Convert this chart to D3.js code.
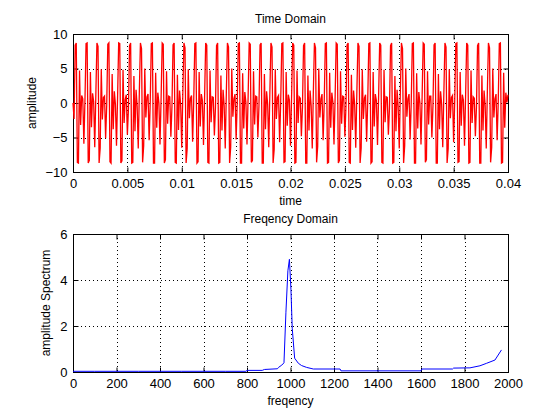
<!doctype html>
<html>
<head>
<meta charset="utf-8">
<title>Time / Freqency Domain</title>
<script src="https://d3js.org/d3.v7.min.js"></script>
<style>
  body { margin: 0; background: #fff; }
  text { font-family: "Liberation Sans", Arial, Helvetica, sans-serif; fill: #000; }
  .tick text { font-size: 13px; }
</style>
</head>
<body>
<script>
// time domain samples, dt = 0.0001 s
const dt = 0.0001;
const timeValues = [
  0.0, -2.3, 8.4, 8.7, -8.6, -8.7, 4.7, -3.2, 1.1, 0.6,
  -5.9, 0.4, 8.6, 8.7, -8.7, -8.3, 4.5, -3.5, 1.4, 0.2,
  -6.4, 1.2, 8.7, 8.2, -8.7, -6.5, 4.9, -2.4, 0.8, 1.0,
  -5.1, -0.3, 8.5, 8.7, -8.5, -8.7, 4.2, -3.8, 1.7, -0.2,
  -6.2, 0.9, 8.7, 8.6, -8.7, -8.4, 4.8, -2.9, 0.5, 1.2,
  -4.6, -0.8, 8.3, 8.7, -8.7, -8.6, 3.9, -4.1, 1.9, -0.5,
  -6.6, 1.6, 8.7, 7.9, -8.6, -6.2, 5.0, -2.1, 0.9, 1.3,
  -5.4, 0.0, 8.6, 8.7, -8.7, -8.7, 4.4, -3.6, 1.5, 0.0,
  -6.0, 0.6, 8.7, 8.5, -8.7, -8.2, 4.6, -3.0, 1.0, 0.9,
  -4.9, -0.5, 8.4, 8.7, -8.6, -8.7, 4.1, -3.9, 1.8, -0.3,
  -6.5, 1.4, 8.7, 8.0, -8.7, -6.6, 4.9, -2.2, 0.7, 1.1,
  -5.6, 0.2, 8.6, 8.7, -8.7, -8.5, 4.5, -3.4, 1.3, 0.3,
  -6.1, 0.8, 8.7, 8.4, -8.6, -8.7, 4.7, -2.8, 0.9, 0.8,
  -4.7, -0.7, 8.3, 8.7, -8.7, -8.6, 4.0, -4.0, 1.9, -0.4,
  -6.6, 1.5, 8.7, 8.1, -8.7, -6.4, 5.0, -2.0, 0.6, 1.3,
  -5.3, -0.1, 8.6, 8.7, -8.7, -8.7, 4.3, -3.7, 1.6, 0.1,
  -6.0, 0.7, 8.7, 8.5, -8.6, -8.3, 4.6, -3.1, 1.0, 0.9,
  -5.0, -0.4, 8.4, 8.7, -8.7, -8.7, 4.2, -3.8, 1.7, -0.2,
  -6.4, 1.3, 8.7, 8.1, -8.7, -6.7, 4.9, -2.3, 0.8, 1.1,
  -5.7, 0.3, 8.6, 8.7, -8.6, -8.5, 4.5, -3.3, 1.2, 0.4,
  -6.2, 0.9, 8.7, 8.4, -8.7, -8.6, 4.7, -2.9, 0.9, 0.7,
  -4.8, -0.6, 8.3, 8.7, -8.7, -8.7, 4.0, -4.0, 1.8, -0.4,
  -6.6, 1.5, 8.7, 8.0, -8.6, -6.3, 5.0, -2.1, 0.6, 1.3,
  -5.4, 0.0, 8.6, 8.7, -8.7, -8.6, 4.4, -3.6, 1.5, 0.1,
  -6.0, 0.6, 8.7, 8.5, -8.7, -8.3, 4.6, -3.0, 1.0, 0.9,
  -4.9, -0.5, 8.4, 8.7, -8.6, -8.7, 4.1, -3.9, 1.8, -0.2,
  -6.5, 1.4, 8.7, 8.2, -8.7, -6.5, 4.9, -2.3, 0.7, 1.2,
  -5.6, 0.2, 8.6, 8.7, -8.7, -8.5, 4.5, -3.4, 1.3, 0.3,
  -6.1, 0.8, 8.7, 8.4, -8.6, -8.7, 4.8, -2.8, 0.9, 0.8,
  -4.6, -0.8, 8.3, 8.7, -8.7, -8.6, 3.9, -4.1, 1.9, -0.5,
  -6.6, 1.6, 8.7, 7.9, -8.7, -6.2, 5.0, -2.0, 0.6, 1.3,
  -5.3, -0.1, 8.6, 8.7, -8.7, -8.7, 4.3, -3.7, 1.6, 0.0,
  -6.0, 0.7, 8.7, 8.5, -8.6, -8.2, 4.6, -3.1, 1.0, 1.0,
  -5.0, -0.4, 8.4, 8.7, -8.7, -8.7, 4.2, -3.8, 1.7, -0.2,
  -6.4, 1.3, 8.7, 8.1, -8.7, -6.6, 4.9, -2.2, 0.8, 1.1,
  -5.7, 0.3, 8.6, 8.7, -8.6, -8.5, 4.5, -3.3, 1.2, 0.4,
  -6.2, 0.9, 8.7, 8.4, -8.7, -8.6, 4.7, -2.9, 0.9, 0.7,
  -4.8, -0.6, 8.3, 8.7, -8.7, -8.7, 4.0, -4.0, 1.8, -0.4,
  -6.6, 1.5, 8.7, 8.0, -8.6, -6.4, 5.0, -2.1, 0.6, 1.3,
  -5.4, 0.0, 8.6, 8.7, -8.7, -8.6, 4.4, -3.6, 1.5, 0.1,
  1.2
];
const timeTicks = [0, 0.005, 0.01, 0.015, 0.02, 0.025, 0.03, 0.035, 0.04];
const ampTicks = [-10, -5, 0, 5, 10];

// spectrum points (Hz, magnitude)
const freqs = [0, 100, 200, 300, 400, 500, 600, 700, 795, 800, 870, 880, 940, 945, 960, 970,
  979, 988, 995, 1002, 1008, 1019, 1036, 1051, 1074, 1105, 1228, 1232, 1600, 1604,
  1745, 1750, 1825, 1871, 1902, 1940, 1970];
const specValues = [0.03, 0.03, 0.03, 0.03, 0.03, 0.03, 0.03, 0.03, 0.03, 0.07, 0.07, 0.11, 0.14, 0.2, 0.3, 0.4,
  2.6, 4.4, 4.9, 3.6, 1.9, 0.6, 0.38, 0.28, 0.2, 0.13, 0.13, 0.05, 0.05, 0.13,
  0.13, 0.17, 0.18, 0.27, 0.38, 0.52, 0.96];
const freqTicks = d3.range(0, 2001, 200);
const specTicks = [0, 2, 4, 6];

const svg = d3.select("body").append("svg").attr("width", 560).attr("height", 420);
svg.append("rect").attr("width", 560).attr("height", 420).attr("fill", "#fff");

function subplot(box, xDom, yDom, xt, yt, title, xlab, ylab, ylabX) {
  const x = d3.scaleLinear().domain(xDom).range([box.l, box.r]);
  const y = d3.scaleLinear().domain(yDom).range([box.b, box.t]);
  const g = svg.append("g");

  // dotted grid
  g.selectAll(".gx").data(xt.slice(1, -1)).join("line")
    .attr("x1", d => Math.round(x(d)) + 0.5).attr("x2", d => Math.round(x(d)) + 0.5)
    .attr("y1", box.t).attr("y2", box.b)
    .attr("stroke", "#000").attr("stroke-dasharray", "1,3");
  g.selectAll(".gy").data(yt.slice(1, -1)).join("line")
    .attr("y1", d => Math.round(y(d)) + 0.5).attr("y2", d => Math.round(y(d)) + 0.5)
    .attr("x1", box.l).attr("x2", box.r)
    .attr("stroke", "#000").attr("stroke-dasharray", "1,3");

  const ax = (gen, tx, ty, lbl) => {
    const a = g.append("g").attr("transform", `translate(${tx},${ty})`).call(gen);
    a.select(".domain").remove();
    a.selectAll(".tick line").attr("stroke", "#000");
    if (!lbl) a.selectAll(".tick text").remove();
    return a;
  };
  const fmt = d3.format("");
  ax(d3.axisBottom(x).tickValues(xt).tickSize(-5).tickPadding(6).tickFormat(fmt), 0, box.b + 0.5, true);
  ax(d3.axisTop(x).tickValues(xt).tickSize(-5), 0, box.t + 0.5, false);
  ax(d3.axisLeft(y).tickValues(yt).tickSize(-5).tickPadding(6).tickFormat(fmt), box.l + 0.5, 0, true);
  ax(d3.axisRight(y).tickValues(yt).tickSize(-5), box.r + 0.5, 0, false);

  g.append("rect").attr("x", box.l + 0.5).attr("y", box.t + 0.5)
    .attr("width", box.r - box.l).attr("height", box.b - box.t)
    .attr("fill", "none").attr("stroke", "#000");

  svg.append("text").attr("x", (box.l + box.r) / 2).attr("y", box.t - 11)
    .attr("text-anchor", "middle").style("font-size", "12px").text(title);
  svg.append("text").attr("x", (box.l + box.r) / 2).attr("y", box.b + 33)
    .attr("text-anchor", "middle").style("font-size", "12px").text(xlab);
  svg.append("text").attr("transform", `translate(${ylabX},${(box.t + box.b) / 2}) rotate(-90)`)
    .attr("text-anchor", "middle").style("font-size", "12px").text(ylab);
  return { x, y };
}

const upper = subplot({ l: 73, r: 508, t: 34, b: 172 }, [0, 0.04], [-10, 10],
  timeTicks, ampTicks, "Time Domain", "time", "amplitude", 36);
svg.append("path")
  .datum(timeValues)
  .attr("fill", "none").attr("stroke", "#f00").attr("stroke-width", 1.3)
  .attr("d", d3.line().x((d, i) => upper.x(i * dt)).y(d => upper.y(d)));

const lower = subplot({ l: 73, r: 508, t: 234, b: 372 }, [0, 2000], [0, 6],
  freqTicks, specTicks, "Freqency Domain", "freqency", "amplitude Spectrum", 50);
svg.append("path")
  .datum(freqs.map((f, i) => [f, specValues[i]]))
  .attr("fill", "none").attr("stroke", "#00f").attr("stroke-width", 1)
  .attr("d", d3.line().x(d => lower.x(d[0])).y(d => lower.y(d[1])));
</script>
</body>
</html>
